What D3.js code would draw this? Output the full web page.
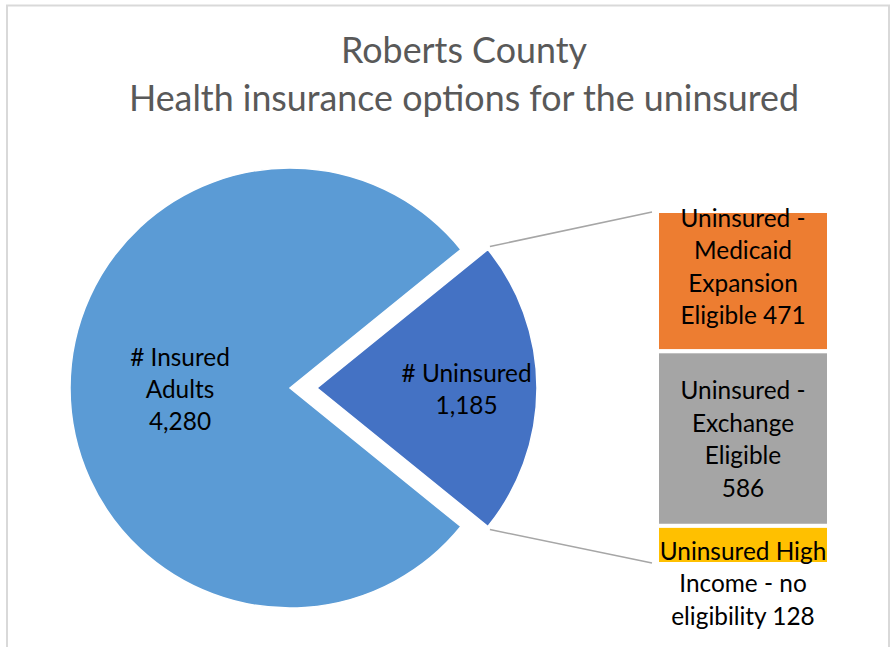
<!DOCTYPE html>
<html>
<head>
<meta charset="utf-8">
<script src="https://cdn.jsdelivr.net/npm/d3@7"></script>
<style>
  body { margin: 0; background: #fff; }
  svg text { font-family: Lato, "Open Sans", sans-serif; }
</style>
</head>
<body>
<svg id="chart"></svg>
<script>
// data
var titleLines = ["Roberts County", "Health insurance options for the uninsured"];
var pieCategories = ["# Uninsured", "# Insured Adults"];
var pieValues = [1185, 4280];
// how Excel wrapped each label, %v = the value
var pieLabelLines = [["# Uninsured", "%v"], ["# Insured", "Adults", "%v"]];
var barCategories = ["Uninsured - Medicaid Expansion Eligible", "Uninsured - Exchange Eligible", "Uninsured High Income - no eligibility"];
var barValues = [471, 586, 128];
var barLabelLines = [
    ["Uninsured -", "Medicaid", "Expansion", "Eligible %v"],
    ["Uninsured -", "Exchange", "Eligible", "%v"],
    ["Uninsured High", "Income - no", "eligibility %v"]
];

var width = 893, height = 647;
var pieColors = ["#4472C4", "#5B9BD5"];
var barColors = ["#ED7D31", "#A5A5A5", "#FFC000"];
var fmt = d3.format(",");
var labelSize = 24.4;

var svg = d3.select("#chart").attr("width", width).attr("height", height);

// chart frame
svg.append("rect")
    .attr("x", 7).attr("y", 5.5)
    .attr("width", 882).attr("height", 660)
    .attr("fill", "none")
    .attr("stroke", "#d9d9d9")
    .attr("stroke-width", 2);

// title
svg.append("g").selectAll("text")
    .data(titleLines)
    .join("text")
    .attr("x", 464)
    .attr("y", (d, i) => 63 + i * 48)
    .attr("text-anchor", "middle")
    .attr("font-size", 35.8)
    .attr("fill", "#595959")
    .text(d => d);

// pie, the "other" slice centred at 3 o'clock
var cx = 290, cy = 388, r = 220, explode = 27;
var total = d3.sum(pieValues);
var otherAngle = 2 * Math.PI * pieValues[0] / total;
var pie = d3.pie().sort(null)
    .startAngle(Math.PI / 2 - otherAngle / 2)
    .endAngle(Math.PI / 2 - otherAngle / 2 + 2 * Math.PI);
var arcs = pie(pieValues);
var arc = d3.arc().innerRadius(0).outerRadius(r);
var labelRadius = [0.68, 0.5];

function offset(d, i) {
    if (i !== 0) return [0, 0];
    var mid = (d.startAngle + d.endAngle) / 2;
    return [Math.sin(mid) * explode, -Math.cos(mid) * explode];
}

var pieG = svg.append("g").attr("transform", "translate(" + cx + "," + cy + ")");

var slices = pieG.selectAll("g.slice")
    .data(arcs)
    .join("g")
    .attr("class", "slice")
    .attr("transform", (d, i) => "translate(" + offset(d, i) + ")");

slices.append("path")
    .attr("d", arc)
    .attr("fill", (d, i) => pieColors[i])
    .attr("stroke", "#fff")
    .attr("stroke-width", 1.5);

slices.each(function(d, i) {
    var la = d3.arc().innerRadius(r * labelRadius[i]).outerRadius(r * labelRadius[i]);
    var c = la.centroid(d);
    var lines = pieLabelLines[i].map(s => s.replace("%v", fmt(pieValues[i])));
    d3.select(this).append("g").selectAll("text")
        .data(lines)
        .join("text")
        .attr("x", c[0])
        .attr("y", (s, k) => c[1] + (k - (lines.length - 1) / 2) * 32)
        .attr("text-anchor", "middle")
        .attr("dominant-baseline", "central")
        .attr("font-size", labelSize)
        .attr("fill", "#000")
        .text(s => s);
});

// stacked bar for the uninsured slice
var barX = 657, barW = 172;
var y = d3.scaleLinear().domain([0, d3.sum(barValues)]).range([211, 564]);
var stacked = [];
barValues.reduce((acc, v, i) => { stacked.push({ i: i, y0: acc, y1: acc + v, v: v }); return acc + v; }, 0);

svg.append("g").selectAll("rect")
    .data(stacked)
    .join("rect")
    .attr("x", barX)
    .attr("y", d => y(d.y0))
    .attr("width", barW)
    .attr("height", d => y(d.y1) - y(d.y0))
    .attr("fill", d => barColors[d.i])
    .attr("stroke", "#fff")
    .attr("stroke-width", 4);

// connector lines from slice edges to bar corners
var o = offset(arcs[0], 0);
var a0 = arcs[0].startAngle, a1 = arcs[0].endAngle;
var pTop = [cx + o[0] + Math.sin(a0) * r + 2, cy + o[1] - Math.cos(a0) * r - 3];
var pBot = [cx + o[0] + Math.sin(a1) * r + 2, cy + o[1] - Math.cos(a1) * r + 3];
svg.append("g").selectAll("line")
    .data([[pTop, [barX - 5, y(0) + 1]], [pBot, [barX - 5, y(d3.sum(barValues)) - 1]]])
    .join("line")
    .attr("x1", d => d[0][0]).attr("y1", d => d[0][1])
    .attr("x2", d => d[1][0]).attr("y2", d => d[1][1])
    .attr("stroke", "#a6a6a6")
    .attr("stroke-width", 1.5);

// bar labels (Excel nudged the top and bottom ones)
var labelShift = [-15, 0, 38];
stacked.forEach(function(d) {
    var lines = barLabelLines[d.i].map(s => s.replace("%v", fmt(d.v)));
    var mid = (y(d.y0) + y(d.y1)) / 2 + labelShift[d.i];
    svg.append("g").selectAll("text")
        .data(lines)
        .join("text")
        .attr("x", barX + barW / 2)
        .attr("y", (s, k) => mid + (k - (lines.length - 1) / 2) * 32.5)
        .attr("text-anchor", "middle")
        .attr("dominant-baseline", "central")
        .attr("font-size", labelSize)
        .attr("fill", "#000")
        .text(s => s);
});
</script>
</body>
</html>
